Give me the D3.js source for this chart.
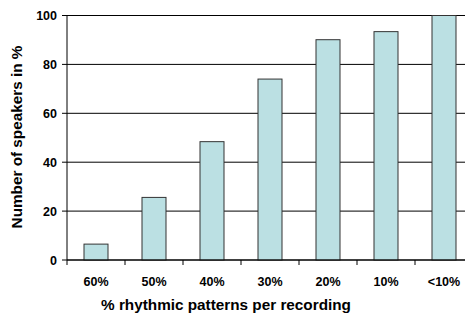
<!DOCTYPE html>
<html><head><meta charset="utf-8">
<script src="https://cdn.jsdelivr.net/npm/d3@7/dist/d3.min.js"></script>
<style>body{margin:0;background:#fff}svg{display:block}text{font-family:"Liberation Sans",Arial,sans-serif;font-weight:bold;fill:#000}</style>
</head><body><svg id="c" width="465" height="313"></svg>
<script>
const categories = ["60%","50%","40%","30%","20%","10%","<10%"];
const values = [6.5, 25.6, 48.4, 74, 90.1, 93.4, 100];
const yTicks = [0,20,40,60,80,100];
const xTitle = "% rhythmic patterns per recording";
const yTitle = "Number of speakers in %";

(function(){
const svg = d3.select("#c");
const mLeft = 67, mTop = 15.5, mBottom = 260, band = 58;
const x = d3.scaleBand().domain(categories).range([mLeft, mLeft + band*categories.length]).paddingInner(0).paddingOuter(0);
const y = d3.scaleLinear().domain([0,100]).range([mBottom, mTop]);

svg.append("g").selectAll("line").data(yTicks).join("line")
  .attr("x1", mLeft - 5).attr("x2", 465)
  .attr("y1", d=>y(d)).attr("y2", d=>y(d))
  .attr("stroke","#000").attr("stroke-width",1);

const bw = 24;
svg.append("g").selectAll("rect").data(values).join("rect")
  .attr("x",(d,i)=>x(categories[i]) + band/2 - bw/2)
  .attr("width", bw)
  .attr("y", d=>y(d))
  .attr("height", d=>mBottom - y(d))
  .attr("fill","#bbe0e3").attr("stroke","#333").attr("stroke-width",1);

svg.append("line").attr("x1",mLeft).attr("x2",mLeft).attr("y1",mTop).attr("y2",mBottom).attr("stroke","#000");
svg.append("line").attr("x1",mLeft).attr("x2",465).attr("y1",mBottom).attr("y2",mBottom).attr("stroke","#000");

const bounds = categories.map(c=>x(c));
svg.append("g").selectAll("line").data(bounds).join("line")
  .attr("x1",d=>d).attr("x2",d=>d).attr("y1",mBottom).attr("y2",mBottom+5).attr("stroke","#000");

svg.append("g").selectAll("text").data(yTicks).join("text")
  .attr("x", 57).attr("y", d=>y(d)).attr("dy","0.36em")
  .attr("text-anchor","end").attr("font-size",12.5).text(d=>d);

svg.append("g").selectAll("text").data(categories).join("text")
  .attr("x", d=>x(d)+band/2).attr("y", 286)
  .attr("text-anchor","middle").attr("font-size",12.5).text(d=>d);

svg.append("text").attr("x", 226).attr("y", 310).attr("text-anchor","middle").attr("font-size",15.3).text(xTitle);
svg.append("text").attr("transform","translate(22,137) rotate(-90)").attr("text-anchor","middle").attr("font-size",15.3).text(yTitle);
})();
</script></body></html>
